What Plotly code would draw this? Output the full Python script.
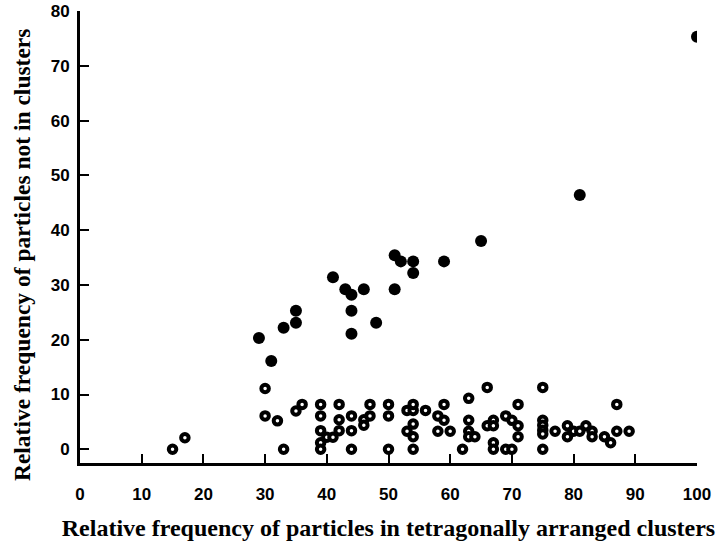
import plotly.graph_objects as go

# filled markers
filled_x = [29, 31, 33, 35, 35, 41, 43, 44, 44, 44, 46, 48, 51, 51, 52, 54, 54, 59, 65, 81, 100]
filled_y = [20.3, 16.1, 22.2, 23.1, 25.3, 31.4, 29.2, 28.2, 25.3, 21.1, 29.2, 23.1, 29.2, 35.4,
            34.3, 34.3, 32.2, 34.3, 38.0, 46.4, 75.3]

# open markers
open_x = [15, 17, 30, 30, 32, 33, 35, 36, 39, 39, 39, 40, 41, 39, 39,
          42, 42, 42, 44, 44, 44, 46, 46, 47, 47, 50, 50, 50,
          53, 54, 54, 56, 54, 53, 54, 54,
          58, 59, 59, 58, 60, 62, 63, 63, 63, 63, 64,
          66, 66, 67, 67, 69, 70, 71, 71, 71, 67, 67, 69, 70,
          75, 75, 75, 75, 75, 75, 77, 79, 79, 80, 81, 82, 83, 83, 85, 86, 87, 87, 89]
open_y = [0, 2.1, 11.1, 6.1, 5.2, 0, 7.0, 8.2, 8.2, 6.1, 3.4, 2.2, 2.2, 1.2, 0,
          8.2, 5.4, 3.4, 6.1, 3.4, 0, 5.4, 4.4, 8.2, 6.1, 8.2, 6.1, 0,
          7.1, 7.1, 8.2, 7.1, 4.6, 3.3, 2.3, 0,
          6.1, 8.2, 5.3, 3.3, 3.3, 0, 9.3, 5.3, 3.3, 2.3, 2.3,
          11.3, 4.3, 5.3, 4.3, 6.1, 5.3, 8.2, 4.3, 2.3, 1.2, 0, 0, 0,
          11.3, 5.3, 4.4, 3.5, 2.8, 0, 3.3, 4.3, 2.3, 3.3, 3.3, 4.3, 3.3, 2.3, 2.3, 1.2, 8.2, 3.3, 3.3]

x_ticks = [0, 10, 20, 30, 40, 50, 60, 70, 80, 90, 100]
y_ticks = [0, 10, 20, 30, 40, 50, 60, 70, 80]

tick_font = dict(family="Liberation Sans Narrow, Arial Narrow, sans-serif", size=17,
                 color="black", weight="bold")
serif = "Liberation Serif, Times New Roman, serif"

fig = go.Figure()
fig.add_trace(go.Scatter(
    x=open_x, y=open_y, mode="markers",
    marker=dict(symbol="circle", size=7.5, color="white",
                line=dict(color="black", width=4)),
    showlegend=False))
fig.add_trace(go.Scatter(
    x=filled_x, y=filled_y, mode="markers",
    marker=dict(symbol="circle", size=12, color="black",
                line=dict(color="black", width=0)),
    showlegend=False))

axis_common = dict(
    showline=True, linecolor="black", linewidth=3,
    ticks="inside", ticklen=9, tickwidth=2, tickcolor="black",
    showgrid=False, zeroline=False, tickfont=tick_font, automargin=False,
)

fig.update_xaxes(
    **axis_common, range=[0, 100], tickvals=x_ticks,
    ticklabelstandoff=14,
    title=dict(text="Relative frequency of particles in tetragonally arranged clusters",
               font=dict(family=serif, size=24, color="black", weight="bold"), standoff=16),
)
fig.update_yaxes(
    **axis_common, range=[-2.5, 80], tickvals=y_ticks,
    ticklabelstandoff=4,
)

# y title sits a bit below the plot centre in the original
fig.add_annotation(
    text="Relative frequency of particles not in clusters",
    xref="paper", yref="paper", x=-0.094, y=0.46,
    xanchor="center", yanchor="middle", textangle=-90,
    showarrow=False, font=dict(family=serif, size=23.5, color="black", weight="bold"),
)

fig.update_layout(
    width=720, height=544,
    margin=dict(l=80, r=23, t=11, b=81),
    plot_bgcolor="white", paper_bgcolor="white",
)

fig.write_html("out.html", config={"displayModeBar": False},
               post_script="document.body.style.margin='0';")
